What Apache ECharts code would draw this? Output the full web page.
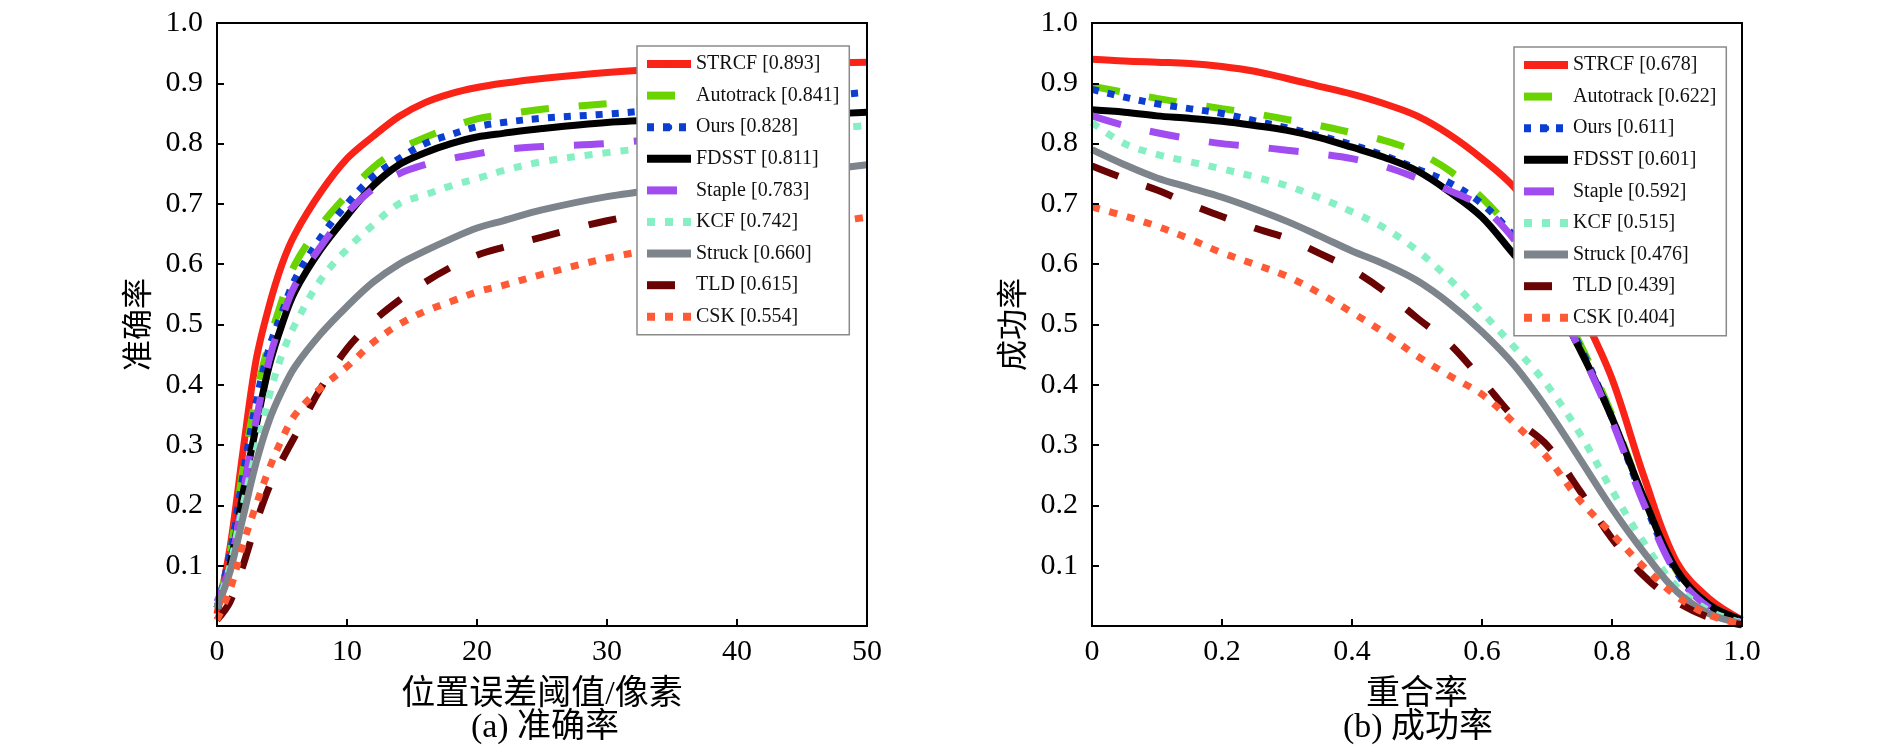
<!DOCTYPE html>
<html>
<head>
<meta charset="utf-8">
<script src="https://cdn.jsdelivr.net/npm/echarts@6/dist/echarts.min.js"></script>
<style>
  html, body { margin: 0; padding: 0; background: #fff; }
  #chart { width: 1890px; height: 754px; }
</style>
</head>
<body>
<div id="chart"></div>
<script>
// tracker names and the scores shown in the two legends
var trackers = ['STRCF', 'Autotrack', 'Ours', 'FDSST', 'Staple', 'KCF', 'Struck', 'TLD', 'CSK'];
var precScores = ['0.893', '0.841', '0.828', '0.811', '0.783', '0.742', '0.660', '0.615', '0.554'];
var succScores = ['0.678', '0.622', '0.611', '0.601', '0.592', '0.515', '0.476', '0.439', '0.404'];

// (a) precision: location error threshold (pixels)
var precX = [0, 1, 2, 3, 4, 5, 6, 8, 10, 12, 14, 16, 18, 20, 22, 25, 30, 35, 40, 45, 50];
var precStrcf     = [0.02, 0.13, 0.29, 0.44, 0.53, 0.60, 0.65, 0.72, 0.775, 0.812, 0.845, 0.868, 0.883, 0.893, 0.900, 0.908, 0.918, 0.925, 0.930, 0.933, 0.935];
var precAutotrack = [0.03, 0.12, 0.26, 0.38, 0.47, 0.54, 0.60, 0.665, 0.715, 0.76, 0.79, 0.81, 0.827, 0.841, 0.848, 0.857, 0.866, 0.875, 0.88, 0.885, 0.888];
var precOurs      = [0.03, 0.12, 0.25, 0.37, 0.46, 0.52, 0.575, 0.645, 0.70, 0.745, 0.775, 0.80, 0.815, 0.828, 0.835, 0.842, 0.849, 0.858, 0.866, 0.876, 0.885];
var precFdsst     = [0.03, 0.10, 0.22, 0.33, 0.43, 0.50, 0.555, 0.625, 0.68, 0.73, 0.765, 0.785, 0.80, 0.811, 0.817, 0.825, 0.835, 0.84, 0.843, 0.847, 0.852];
var precStaple    = [0.04, 0.10, 0.22, 0.34, 0.44, 0.51, 0.565, 0.63, 0.685, 0.725, 0.75, 0.765, 0.775, 0.783, 0.79, 0.795, 0.80, 0.81, 0.82, 0.828, 0.835];
var precKcf       = [0.03, 0.10, 0.20, 0.29, 0.38, 0.45, 0.50, 0.575, 0.625, 0.665, 0.70, 0.715, 0.73, 0.742, 0.755, 0.77, 0.785, 0.797, 0.808, 0.82, 0.83];
var precStruck    = [0.03, 0.09, 0.18, 0.27, 0.34, 0.39, 0.43, 0.485, 0.53, 0.57, 0.60, 0.622, 0.642, 0.66, 0.672, 0.69, 0.712, 0.727, 0.74, 0.752, 0.765];
var precTld       = [0.01, 0.04, 0.10, 0.17, 0.23, 0.275, 0.315, 0.395, 0.46, 0.505, 0.54, 0.57, 0.595, 0.615, 0.628, 0.645, 0.672, 0.69, 0.705, 0.72, 0.738];
var precCsk       = [0.01, 0.06, 0.135, 0.20, 0.26, 0.31, 0.35, 0.395, 0.43, 0.47, 0.50, 0.522, 0.538, 0.554, 0.565, 0.583, 0.61, 0.63, 0.648, 0.663, 0.678];

// (b) success: overlap threshold
var succX = [0, 0.05, 0.1, 0.15, 0.2, 0.25, 0.3, 0.35, 0.4, 0.45, 0.5, 0.55, 0.6, 0.65, 0.7, 0.75, 0.8, 0.85, 0.9, 0.95, 1.0];
var succStrcf     = [0.94, 0.937, 0.935, 0.933, 0.928, 0.92, 0.908, 0.895, 0.882, 0.866, 0.846, 0.815, 0.775, 0.727, 0.655, 0.53, 0.41, 0.245, 0.105, 0.045, 0.01];
var succAutotrack = [0.895, 0.885, 0.875, 0.866, 0.858, 0.85, 0.84, 0.83, 0.818, 0.805, 0.786, 0.755, 0.71, 0.65, 0.57, 0.47, 0.35, 0.21, 0.09, 0.035, 0.008];
var succOurs      = [0.89, 0.877, 0.866, 0.858, 0.85, 0.838, 0.826, 0.813, 0.798, 0.78, 0.758, 0.735, 0.70, 0.645, 0.565, 0.465, 0.345, 0.205, 0.088, 0.033, 0.008];
var succFdsst     = [0.856, 0.852, 0.846, 0.842, 0.837, 0.83, 0.822, 0.81, 0.794, 0.777, 0.755, 0.72, 0.678, 0.615, 0.555, 0.46, 0.345, 0.21, 0.092, 0.035, 0.01];
var succStaple    = [0.846, 0.83, 0.818, 0.808, 0.80, 0.795, 0.789, 0.783, 0.775, 0.762, 0.743, 0.722, 0.695, 0.64, 0.56, 0.46, 0.34, 0.2, 0.085, 0.03, 0.006];
var succKcf       = [0.835, 0.80, 0.782, 0.77, 0.758, 0.745, 0.73, 0.71, 0.687, 0.66, 0.623, 0.575, 0.52, 0.462, 0.40, 0.32, 0.225, 0.137, 0.065, 0.025, 0.005];
var succStruck    = [0.79, 0.765, 0.743, 0.727, 0.711, 0.692, 0.671, 0.647, 0.622, 0.60, 0.573, 0.535, 0.488, 0.432, 0.36, 0.278, 0.195, 0.121, 0.057, 0.02, 0.004];
var succTld       = [0.763, 0.742, 0.723, 0.70, 0.679, 0.66, 0.643, 0.618, 0.591, 0.555, 0.511, 0.468, 0.408, 0.345, 0.30, 0.225, 0.145, 0.082, 0.04, 0.014, 0.002];
var succCsk       = [0.695, 0.68, 0.663, 0.642, 0.619, 0.60, 0.58, 0.552, 0.52, 0.486, 0.448, 0.415, 0.384, 0.336, 0.28, 0.209, 0.153, 0.097, 0.049, 0.018, 0.003];

var precData = [precStrcf, precAutotrack, precOurs, precFdsst, precStaple, precKcf, precStruck, precTld, precCsk];
var succData = [succStrcf, succAutotrack, succOurs, succFdsst, succStaple, succKcf, succStruck, succTld, succCsk];

// line looks, one per tracker
var colors = ['#fa2318', '#6ad400', '#0c3ed2', '#000000', '#a04cf0', '#86f0c4', '#7e848c', '#6a0404', '#ff5a36'];
var dashes = ['solid', [28, 30], [7, 9], 'solid', [30, 30], [8, 10], 'solid', [28, 30], [8, 10]];

var serif = '"Liberation Serif", "Times New Roman", "Noto Sans CJK SC", serif';

function pairs(xs, ys) {
    return xs.map(function (x, i) { return [x, ys[i]]; });
}

function makeSeries(xs, data, idx) {
    return trackers.map(function (name, i) {
        return {
            name: name,
            type: 'line',
            xAxisIndex: idx,
            yAxisIndex: idx,
            data: pairs(xs, data[i]),
            symbol: 'none',
            smooth: 0.35,
            z: 2,
            lineStyle: {
                color: colors[i],
                width: 7,
                type: dashes[i],
                cap: 'butt'
            },
            itemStyle: { color: colors[i] },
            silent: true,
            animation: false
        };
    });
}

function makeLegend(scores, left, top) {
    return {
        orient: 'vertical',
        left: left,
        top: top,
        z: 50,
        data: trackers,
        selectedMode: false,
        backgroundColor: '#fff',
        borderColor: '#8a8a8a',
        borderWidth: 1.5,
        borderRadius: 0,
        padding: [8, 10, 8, 6],
        itemWidth: 44,
        itemHeight: 8,
        itemGap: 11.6,
        lineStyle: { width: 8 },
        textStyle: { fontFamily: serif, fontSize: 20, color: '#111' },
        formatter: function (name) {
            return name + ' [' + scores[trackers.indexOf(name)] + ']';
        }
    };
}

var axisLine = { show: true, lineStyle: { color: '#000', width: 2 } };
var axisTick = { show: true, inside: true, length: 7, lineStyle: { color: '#000', width: 2 } };
var tickFont = { fontFamily: serif, fontSize: 30, color: '#000' };

function yAxis(idx, name) {
    return {
        type: 'value',
        gridIndex: idx,
        min: 0,
        max: 1,
        interval: 0.1,
        name: name,
        nameLocation: 'middle',
        nameRotate: 90,
        nameGap: 62,
        nameTextStyle: { fontFamily: serif, fontSize: 31, color: '#000' },
        axisLine: axisLine,
        axisTick: axisTick,
        splitLine: { show: false },
        z: 5,
        axisLabel: Object.assign({
            margin: 14,
            formatter: function (v) { return v === 0 ? '' : v.toFixed(1); }
        }, tickFont)
    };
}

function xAxis(idx, name, max, interval, fmt) {
    return {
        type: 'value',
        gridIndex: idx,
        min: 0,
        max: max,
        interval: interval,
        name: name,
        nameLocation: 'middle',
        nameGap: 52,
        nameTextStyle: { fontFamily: serif, fontSize: 34, color: '#000' },
        axisLine: axisLine,
        axisTick: axisTick,
        splitLine: { show: false },
        z: 5,
        axisLabel: Object.assign({ margin: 11, formatter: fmt }, tickFont)
    };
}

var chart = echarts.init(document.getElementById('chart'), null, { renderer: 'canvas' });

var option = {
    backgroundColor: '#fff',
    animation: false,
    grid: [
        { left: 217, top: 23, width: 650, height: 603, show: true, borderColor: '#000', borderWidth: 2, backgroundColor: 'transparent', z: 5 },
        { left: 1092, top: 23, width: 650, height: 603, show: true, borderColor: '#000', borderWidth: 2, backgroundColor: 'transparent', z: 5 }
    ],
    xAxis: [
        xAxis(0, '位置误差阈值/像素', 50, 10, function (v) { return String(v); }),
        xAxis(1, '重合率', 1, 0.2, function (v) { return v === 0 ? '0' : v.toFixed(1); })
    ],
    yAxis: [
        yAxis(0, '准确率'),
        yAxis(1, '成功率')
    ],
    legend: [
        makeLegend(precScores, 637, 46),
        makeLegend(succScores, 1514, 47)
    ],
    graphic: [
        {
            type: 'text',
            x: 545, y: 728,
            style: { text: '(a) 准确率', font: '34px ' + serif, fill: '#000', textAlign: 'center', textVerticalAlign: 'middle' }
        },
        {
            type: 'text',
            x: 1418, y: 728,
            style: { text: '(b) 成功率', font: '34px ' + serif, fill: '#000', textAlign: 'center', textVerticalAlign: 'middle' }
        }
    ],
    series: makeSeries(precX, precData, 0).concat(makeSeries(succX, succData, 1))
};

chart.setOption(option);
</script>
</body>
</html>
